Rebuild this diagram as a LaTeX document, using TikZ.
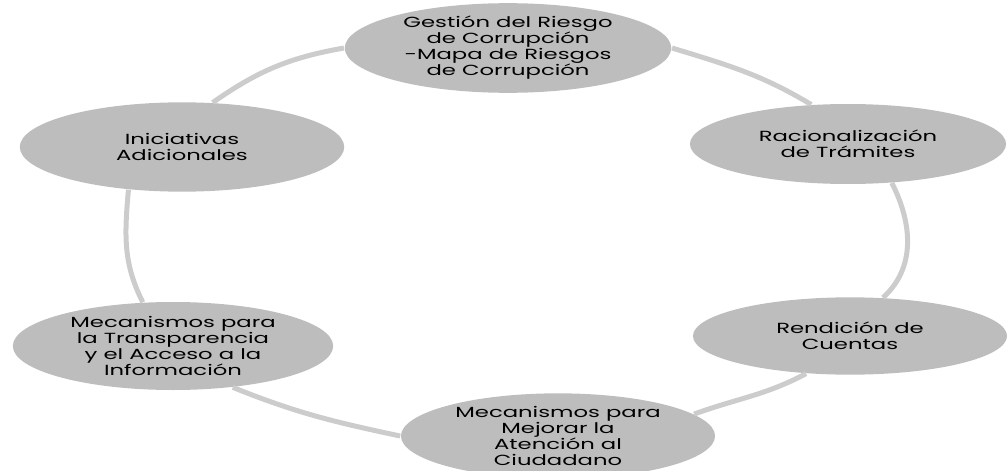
\documentclass[tikz,border=0pt]{standalone}
\usepackage{fontspec}
\setmainfont{Poppins}
\usetikzlibrary{shapes.geometric}
\tikzset{every picture/.style={line width=0.75pt}}
\tikzset{
  bubble/.style={ellipse, fill=black!26, inner sep=0pt, xscale=1.55, align=center,
    minimum width=155pt, minimum height=62pt, font=\fontsize{11}{12}\selectfont},
  link/.style={draw=black!20, line width=3.75pt}
}

\begin{document}
\begin{tikzpicture}[x=0.75pt,y=0.75pt,yscale=-1,xscale=1]
	\useasboundingbox (0,0) rectangle (1007,471);
	
	%Shape: Ellipse (top)
	\node [bubble, minimum width=158pt, minimum height=64pt] (ges) at (508,48) {Gestión del Riesgo\\de Corrupción\\-Mapa de Riesgos\\de Corrupción};
	%Shape: Ellipse (right, upper)
	\node [bubble, minimum width=153pt, minimum height=60pt] (rac) at (848,144) {Racionalización\\de Trámites};
	%Shape: Ellipse (right, lower)
	\node [bubble, minimum width=152pt, minimum height=58pt] (ren) at (850,336) {Rendición de\\Cuentas};
	%Shape: Ellipse (bottom)
	\node [bubble, minimum width=152pt, minimum height=64pt] (mej) at (558,436) {Mecanismos para\\Mejorar la\\Atención al\\Ciudadano};
	%Shape: Ellipse (left, lower)
	\node [bubble, minimum width=155pt, minimum height=66pt] (tra) at (173,346) {Mecanismos para\\la Transparencia\\y el Acceso a la\\Información};
	%Shape: Ellipse (left, upper)
	\node [bubble, minimum width=157pt, minimum height=67pt] (ini) at (182,147) {Iniciativas\\Adicionales};
	
	%Curve Lines
	\draw [link] (ini.66) to [out=-35,in=170] (ges.west);
	\draw [link] (ges.east) to [out=17,in=-149] (rac.121);
	\draw [link] (rac.306) to [out=63,in=-42] (ren.61);
	\draw [link] (ren.233) to [out=152,in=-20] (mej.14);
	\draw [link] (mej.west) to [out=192,in=22] (tra.313);
	\draw [link] (tra.114) to [out=-117,in=95] (ini.231);
	
\end{tikzpicture}
\end{document}
